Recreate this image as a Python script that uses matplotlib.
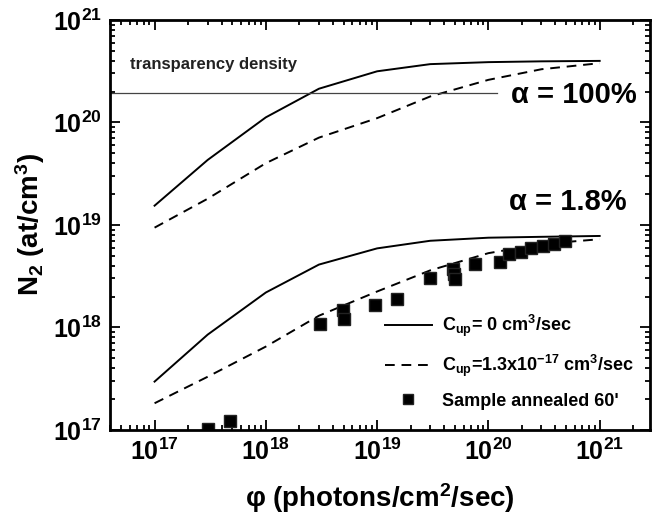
import matplotlib
matplotlib.use("Agg")
import matplotlib.pyplot as plt
from matplotlib.ticker import LogLocator, NullFormatter

plt.rcParams['font.family'] = ['Liberation Sans', 'DejaVu Sans']
plt.rcParams['font.weight'] = 'bold'
plt.rcParams['mathtext.fontset'] = 'custom'
plt.rcParams['mathtext.rm'] = 'Liberation Sans:bold'
plt.rcParams['mathtext.it'] = 'Liberation Sans:bold'
plt.rcParams['mathtext.bf'] = 'Liberation Sans:bold'

# curves computed at these fluxes (photons/cm2/sec)
phi = [1e17, 3e17, 1e18, 3e18, 1e19, 3e19, 1e20, 3e20, 1e21]

# alpha = 100 %
n_high_c0 = [1.54e19, 4.3e19, 1.12e20, 2.13e20, 3.15e20, 3.7e20, 3.87e20, 3.94e20, 3.98e20]
n_high_cup = [9.4e18, 1.8e19, 4.0e19, 7.1e19, 1.1e20, 1.79e20, 2.6e20, 3.3e20, 3.78e20]

# alpha = 1.8 %
n_low_c0 = [2.96e17, 8.5e17, 2.19e18, 4.1e18, 5.9e18, 7.0e18, 7.5e18, 7.65e18, 7.8e18]
n_low_cup = [1.82e17, 3.3e17, 6.5e17, 1.3e18, 2.24e18, 3.6e18, 5.3e18, 6.5e18, 7.25e18]

# measured points, sample annealed 60'
phi_meas = [3.0e17, 4.8e17, 3.05e18, 4.9e18, 5.0e18, 9.6e18, 1.52e19, 3.0e19,
            4.8e19, 4.9e19, 5.0e19, 7.6e19, 1.27e20, 1.52e20, 1.95e20, 2.4e20,
            3.1e20, 3.9e20, 4.85e20]
n_meas = [1.02e17, 1.23e17, 1.09e18, 1.49e18, 1.2e18, 1.66e18, 1.9e18, 3.05e18,
          3.75e18, 3.35e18, 2.95e18, 4.14e18, 4.3e18, 5.17e18, 5.4e18, 5.9e18,
          6.2e18, 6.55e18, 7.0e18]

transparency = 1.95e20
transp_end = 1.2e20

fig = plt.figure(figsize=(6.63, 5.23), dpi=100)
ax = fig.add_axes([0.166, 0.178, 0.814, 0.784])

dash = (0, (5, 3.5))
ax.plot(phi, n_high_c0, color='black', lw=1.4)
ax.plot(phi, n_high_cup, color='black', lw=1.4, linestyle=dash)
ax.plot(phi, n_low_c0, color='black', lw=1.4, label=r'C$_{up}$= 0 cm$^3$/sec')
ax.plot(phi, n_low_cup, color='black', lw=1.4, linestyle=dash,
        label=r'C$_{up}$=1.3x10$^{-17}$ cm$^3$/sec')
ax.plot(phi_meas, n_meas, 's', color='black', markersize=9, markeredgecolor='#222222',
        label="Sample annealed 60'")
ax.plot([4e16, transp_end], [transparency, transparency], color='#444444', lw=0.9)

ax.set_xscale('log')
ax.set_yscale('log')
ax.set_xlim(10**16.6, 10**21.45)
ax.set_ylim(1e17, 1e21)

ax.xaxis.set_major_locator(LogLocator(base=10, numticks=10))
ax.yaxis.set_major_locator(LogLocator(base=10, numticks=10))
ax.xaxis.set_minor_locator(LogLocator(base=10, subs=range(2, 10), numticks=20))
ax.yaxis.set_minor_locator(LogLocator(base=10, subs=range(2, 10), numticks=20))
ax.xaxis.set_minor_formatter(NullFormatter())
ax.yaxis.set_minor_formatter(NullFormatter())

ax.tick_params(which='both', direction='in', top=True, right=True, width=1.3,
               labelsize=18)
ax.tick_params(which='major', length=7, pad=6)
ax.tick_params(which='minor', length=3.5)
for s in ax.spines.values():
    s.set_linewidth(2)

ax.set_xlabel(r'φ (photons/cm$^2$/sec)', fontsize=20, fontweight='bold', labelpad=12)
ax.set_ylabel(r'N$_2$ (at/cm$^3$)', fontsize=20, fontweight='bold', labelpad=4)

ax.text(10**16.776, 3.64e20, 'transparency density', fontsize=12, fontweight='bold',
        color='#222222', va='center')
ax.text(10**21.332, 1.85e20, 'α = 100%', fontsize=21, fontweight='bold', ha='right',
        va='center')
ax.text(10**21.242, 1.68e19, 'α = 1.8%', fontsize=21, fontweight='bold', ha='right',
        va='center')

ax.legend(loc='lower right', bbox_to_anchor=(1.0, 0.012), frameon=False, fontsize=13,
          handlelength=2.6, handletextpad=0.6, labelspacing=0.75, borderaxespad=0.45,
          markerscale=0.8)

fig.savefig('out.png', dpi=100)
